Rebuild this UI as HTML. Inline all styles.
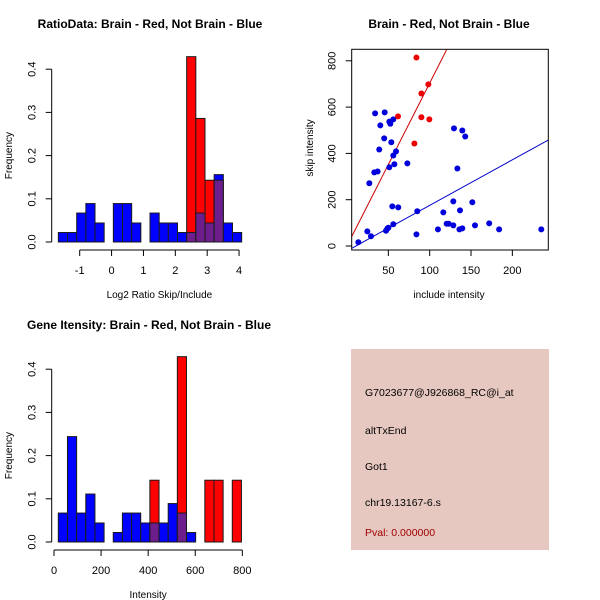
<!DOCTYPE html>
<html><head><meta charset="utf-8"><style>
body{margin:0;background:#fff;}
svg{display:block;font-family:"Liberation Sans",sans-serif;}
</style></head><body>
<svg id="c" width="600" height="600">
<rect x="0" y="0" width="600" height="600" fill="#fff"/>
</svg>
<script>
// ---- Panel 1: ratio histogram data ----
const ratioBinStart = -1.67;
const ratioBinWidth = 0.2876;
const ratioBlue = [0.022,0.022,0.067,0.089,0.044,0,0.089,0.089,0.044,0,0.067,0.044,0.044,0.022,0.022,0.067,0.044,0.156,0.044,0.022];
const ratioRed  = [0,0,0,0,0,0,0,0,0,0,0,0,0,0,0.429,0.286,0.143,0.143,0,0];
const ratioXTicks = [-1,0,1,2,3,4];
const freqTicks = [0.0,0.1,0.2,0.3,0.4];
// ---- Panel 2: scatter data ----
const redX = [84,98.4,90,61.7,90,99.6,81.5];
const redY = [814,698,659,560,556,547,443];
const blueX = [13.7,24.6,29,27,33,37,34,45.6,40.3,39,45,51.2,52.4,56,53.6,59.3,56,57.3,51.2,73,54.8,62,85,84,48.8,47.2,50,56,110,116.5,120.6,123,128.6,128.6,136.7,136,139.5,151.6,154.8,172,184,235,129.4,139.5,143,133.5];
const blueY = [16,63,42,271,318,322,573,577,521,417,465,537,528,547,448,409,391,353,340,357,171,167,150,50,75,66,79,94,72,145,96,96,89,193,154,72,76,189,89,98,72,72,508,499,473,335];
const redFit = [0.6,7.03];   // intercept, slope
const blueFit = [-21,1.966];
const scatterXTicks = [50,100,150,200];
const scatterYTicks = [0,200,400,600,800];
// ---- Panel 3: intensity histogram data ----
const intBinStart = 18.3;
const intBinWidth = 38.9;
const intBlue = [0.067,0.244,0.067,0.111,0.044,0,0.022,0.067,0.067,0.044,0.044,0.044,0.089,0.067,0.022,0,0,0,0,0];
const intRed  = [0,0,0,0,0,0,0,0,0,0,0.143,0,0,0.429,0,0,0.143,0.143,0,0.143];
const intXTicks = [0,200,400,600,800];

const svg = document.getElementById('c');
const NS = 'http://www.w3.org/2000/svg';
function mk(tag, attrs, parent){
  const e = document.createElementNS(NS, tag);
  for (const k in attrs) e.setAttribute(k, attrs[k]);
  (parent||svg).appendChild(e);
  return e;
}
function txt(x,y,s,opts){
  const t = mk('text', Object.assign({x:x,y:y,'font-size':11,'text-anchor':'middle',fill:'#000'}, opts||{}));
  t.textContent = s;
  return t;
}

function histogram(name, sx, sy, start, width, blue, red, xticks, xaxisY, xTickLo, xTickHi, yAxisX, xlabel, title, titleX, titleY, xlabelY){
  const g = mk('g', {});
  
  
  for (let i=0;i<blue.length;i++){
    const x0 = sx(start + i*width), x1 = sx(start + (i+1)*width);
    const b = blue[i], r = red[i];
    const lo = Math.min(b,r), hi = Math.max(b,r);
    if (hi <= 0) continue;
    const topCol = b>=r ? '#0000ff' : '#ff0000';
    const bar = mk('rect', {x:x0, y:sy(hi), width:x1-x0, height:sy(0)-sy(hi), fill: lo>0 ? topCol : (b>0?'#0000ff':'#ff0000'), stroke:'#1a1a1a','stroke-width':1}, g);
    
    
    if (lo > 0){
      const ov = mk('rect', {x:x0, y:sy(lo), width:x1-x0, height:sy(0)-sy(lo), fill:'#6e1e8c', stroke:'#1a1a1a','stroke-width':1}, g);
      
      
    }
  }
  const xa = mk('line', {x1:sx(xTickLo), y1:xaxisY, x2:sx(xTickHi), y2:xaxisY, stroke:'#000'}, g);
  
  
  xticks.forEach(v=>{
    mk('line', {x1:sx(v), y1:xaxisY, x2:sx(v), y2:xaxisY+6, stroke:'#000'}, g);
    const t = txt(sx(v), xaxisY+24, String(v));
    
    
  });
  const ya = mk('line', {x1:yAxisX, y1:sy(0), x2:yAxisX, y2:sy(0.4), stroke:'#000'}, g);
  
  
  freqTicks.forEach(v=>{
    mk('line', {x1:yAxisX-6, y1:sy(v), x2:yAxisX, y2:sy(v), stroke:'#000'}, g);
    const t = txt(yAxisX-16, sy(v), v.toFixed(1), {transform:'rotate(-90 '+(yAxisX-16)+' '+sy(v)+')'});
    
    
  });
  const yl = txt(12, (sy(0)+sy(0.4))/2, 'Frequency', {transform:'rotate(-90 12 '+((sy(0)+sy(0.4))/2)+')', 'font-size':10});
  
  
  const xl = txt((sx(xTickLo)+sx(xTickHi))/2, xlabelY, xlabel, {'font-size':10});
  
  
  const tt = txt(titleX, titleY, title, {'font-weight':'bold','font-size':12});
  
  
}

const p1x = v => 79.7 + (v+1)*31.87;
const p1y = v => 242 - v*432;
histogram('ratio-histogram', p1x, p1y, ratioBinStart, ratioBinWidth, ratioBlue, ratioRed, ratioXTicks, 250, -1, 4, 51.7, 'Log2 Ratio Skip/Include', 'RatioData: Brain - Red, Not Brain - Blue', 150, 28, 298);

const p3x = v => 54 + v*0.2354;
const p3y = v => 542 - v*432;
histogram('intensity-histogram', p3x, p3y, intBinStart, intBinWidth, intBlue, intRed, intXTicks, 550, 0, 800, 51.7, 'Intensity', 'Gene Itensity: Brain - Red, Not Brain - Blue', 149, 329, 598);

(function(){
  const g = mk('g', {});
  
  
  const sx = v => 347 + v*0.8267;
  const sy = v => 246 - v*0.2315;
  const L=351.7, R=548.3, T=49.3, B=250;
  const clip = mk('clipPath', {id:'sc'}, g);
  mk('rect', {x:L, y:T, width:R-L, height:B-T}, clip);
  const xmin = (L-347)/0.8267, xmax = (R-347)/0.8267;
  [[redFit,'#cc0000','red-fit-line'],[blueFit,'#0000cc','blue-fit-line']].forEach(([f,c,n])=>{
    const ln = mk('line', {x1:sx(xmin), y1:sy(f[0]+f[1]*xmin), x2:sx(xmax), y2:sy(f[0]+f[1]*xmax), stroke:c, 'stroke-width':1, 'clip-path':'url(#sc)'}, g);
    
    
  });
  for (let i=0;i<blueX.length;i++){
    const p = mk('circle', {cx:sx(blueX[i]), cy:sy(blueY[i]), r:3, fill:'#0000dd'}, g);
    
    
  }
  for (let i=0;i<redX.length;i++){
    const p = mk('circle', {cx:sx(redX[i]), cy:sy(redY[i]), r:3, fill:'#ee0000'}, g);
    
    
  }
  const box = mk('rect', {x:L, y:T, width:R-L, height:B-T, fill:'none', stroke:'#000'}, g);
  
  
  scatterXTicks.forEach(v=>{
    mk('line', {x1:sx(v), y1:B, x2:sx(v), y2:B+6, stroke:'#000'}, g);
    const t = txt(sx(v), B+24, String(v));
    
    
  });
  scatterYTicks.forEach(v=>{
    mk('line', {x1:L-6, y1:sy(v), x2:L, y2:sy(v), stroke:'#000'}, g);
    const t = txt(L-16, sy(v), String(v), {transform:'rotate(-90 '+(L-16)+' '+sy(v)+')'});
    
    
  });
  const yl = txt(313, 148, 'skip intensity', {transform:'rotate(-90 313 148)','font-size':10});
  
  
  const xl = txt(449, 298, 'include intensity', {'font-size':10});
  
  
  const tt = txt(449, 28, 'Brain - Red, Not Brain - Blue', {'font-weight':'bold','font-size':12});
  
  
})();

(function(){
  const g = mk('g', {});
  
  
  mk('rect', {x:351, y:349, width:198, height:201, fill:'#e6c8c1'}, g);
  const lines = [['G7023677@J926868_RC@i_at',396,'#000','probe-id'],['altTxEnd',434,'#000','event-type'],['Got1',470,'#000','gene-name'],['chr19.13167-6.s',506,'#000','location'],['Pval: 0.000000',536,'#a00000','p-value']];
  lines.forEach(([s,y,c,n])=>{
    const t = txt(365, y, s, {'text-anchor':'start', fill:c, 'font-size':10.5});
    
    
  });
})();
</script>
</body></html>
